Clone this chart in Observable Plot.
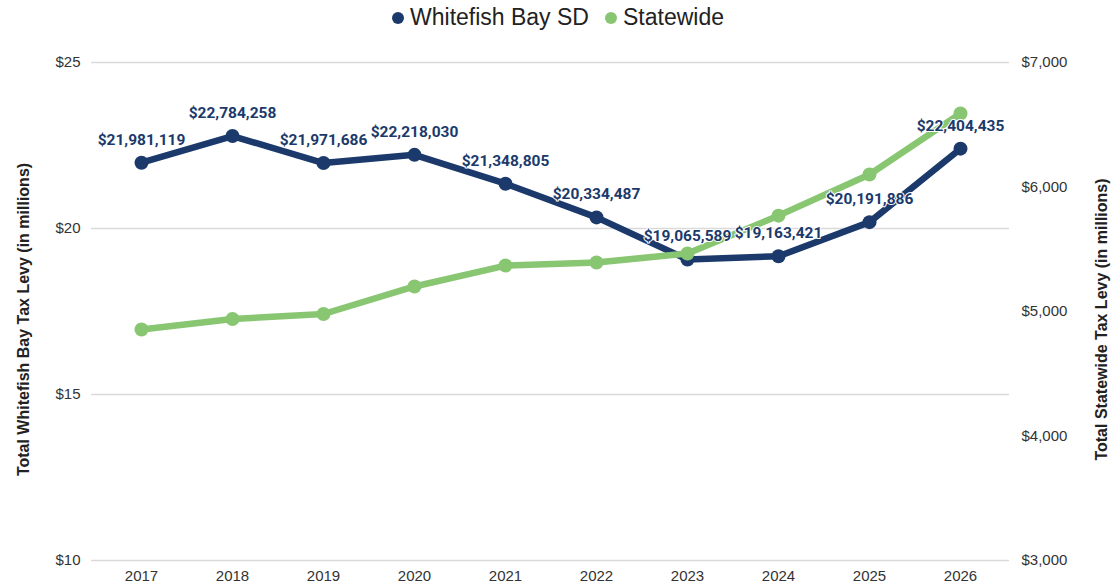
<!DOCTYPE html>
<html>
<head>
<meta charset="utf-8">
<script src="https://cdn.jsdelivr.net/npm/d3@7"></script>
<script src="https://cdn.jsdelivr.net/npm/@observablehq/plot@0.6"></script>
<style>
  html, body { margin: 0; padding: 0; background: #fff; }
  #legend { height: 35px; display: flex; justify-content: center; align-items: center; gap: 16px;
    font-family: "Liberation Sans", Arial, sans-serif; font-size: 23px; color: #222; padding-left: 4px; }
  .item { display: flex; align-items: center; gap: 6px; }
  .sw { width: 12px; height: 12px; border-radius: 50%; display: inline-block; }
</style>
</head>
<body>
<div id="legend">
  <span class="item"><span class="sw" style="background:#1b3a6b"></span>Whitefish Bay SD</span>
  <span class="item"><span class="sw" style="background:#88c672"></span>Statewide</span>
</div>
<div id="chart"></div>
<script>
const years = ["2017","2018","2019","2020","2021","2022","2023","2024","2025","2026"];
const whitefishBay = [21981119, 22784258, 21971686, 22218030, 21348805, 20334487, 19065589, 19163421, 20191886, 22404435];
const statewide = [4856, 4940, 4980, 5201, 5369, 5394, 5466, 5770, 6100, 6590]; // millions
const leftTicks = [10, 15, 20, 25];
const rightTicks = [3000, 4000, 5000, 6000, 7000];

const NAVY = "#1b3a6b", GREEN = "#88c672";
// map statewide (millions) onto left scale domain
const toLeft = v => 10 + (v - 3000) * 15 / 4000;

const wfb = years.map((y, i) => ({year: y, v: whitefishBay[i] / 1e6, raw: whitefishBay[i]}));
const sw = years.map((y, i) => ({year: y, v: toLeft(statewide[i])}));

const chart = Plot.plot({
  width: 1112,
  height: 552,
  marginLeft: 91,
  marginRight: 103,
  marginTop: 27,
  marginBottom: 27,
  style: {fontFamily: "'Liberation Sans', Arial, sans-serif", fontSize: "15px", color: "#333"},
  x: {type: "point", domain: years, padding: 0.5, label: null},
  y: {domain: [10, 25], label: null},
  marks: [
    Plot.gridY(leftTicks, {stroke: "#d9d9d9", strokeOpacity: 1, strokeWidth: 1.5}),
    Plot.axisX({tickSize: 0, tickPadding: 10, fontSize: 15, fill: "#333"}),
    Plot.axisY(leftTicks, {anchor: "left", tickSize: 0, tickPadding: 11, tickFormat: d => "$" + d, fontSize: 15, fill: "#333", label: null}),
    Plot.axisY(rightTicks.map(toLeft), {anchor: "right", tickSize: 0, tickPadding: 12,
      tickFormat: (d, i) => "$" + d3.format(",")(rightTicks[i]), fontSize: 15, fill: "#333", label: null}),
    Plot.text(["Total Whitefish Bay Tax Levy (in millions)"], {frameAnchor: "left", dx: -68, dy: 8, rotate: -90,
      textAnchor: "middle", fontWeight: "bold", fontSize: 16, fill: "#222"}),
    Plot.text(["Total Statewide Tax Levy (in millions)"], {frameAnchor: "right", dx: 92, dy: 8, rotate: -90,
      textAnchor: "middle", fontWeight: "bold", fontSize: 16, fill: "#222"}),
    Plot.line(wfb, {x: "year", y: "v", stroke: NAVY, strokeWidth: 6.5}),
    Plot.dot(wfb, {x: "year", y: "v", r: 7, fill: NAVY}),
    Plot.line(sw, {x: "year", y: "v", stroke: GREEN, strokeWidth: 6.5}),
    Plot.dot(sw, {x: "year", y: "v", r: 7, fill: GREEN}),
    Plot.text(wfb, {x: "year", y: "v", text: d => "$" + d3.format(",")(d.raw), dy: -23,
      fill: NAVY, stroke: "white", strokeWidth: 2, fontWeight: "bold", fontSize: 15.5, fontFamily: "Roboto, sans-serif"})
  ]
});
document.getElementById("chart").appendChild(chart);
</script>
</body>
</html>
